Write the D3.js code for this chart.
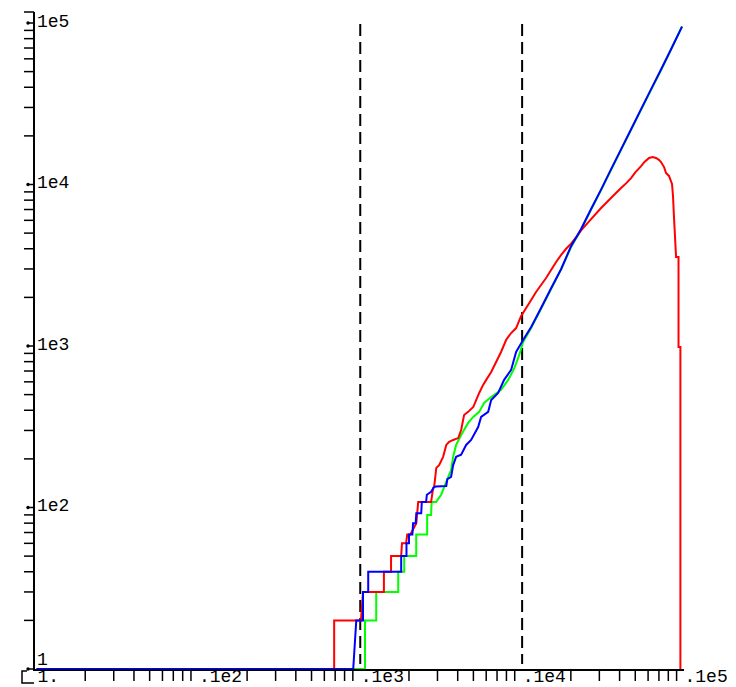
<!DOCTYPE html>
<html><head><meta charset="utf-8">
<script src="https://cdn.jsdelivr.net/npm/d3@7"></script>
<style>body{margin:0;background:#fff}</style>
</head><body>
<svg id="c" width="736" height="687"></svg>
<script>
const xTicks=[1,10,100,1000,10000];
const xTickLabels=["1.",".1e2",".1e3",".1e4",".1e5"];
const yTicks=[10,100,1000,10000,100000];
const yTickLabels=["1","1e2","1e3","1e4","1e5"];
const vLines=[100,1000];

const green=[[1,10],[107,10],[107,20],[125.5,20],[125.5,30],[171.6,30],[171.6,40],[186.9,40],[186.9,50],[221.7,50],[221.7,68],[259,68],[259,90],[274,90],[276,108],[294,108],[316,120],[340,144],[364,171],[375,206],[391,244],[420,281],[464,334],[499,364],[543,391],[582,444],[644,483],[741,535],[820,617],[890,720],[960,880],[1014,1060],[1137,1290],[1309,1700],[1510,2250],[1742,2980],[2006,4100],[2313,5250],[2667,7000],[3074,9250],[3540,12300],[4083,16400],[4710,21800],[5430,29000],[6252,38500],[7211,51000],[8318,68500],[9726,95500]];

const red=[[69,10],[69,20],[101,20],[104,30],[140,30],[140,40],[155,40],[155,50],[179,50],[181,60],[192,60],[195,68],[204,68],[222,80],[228,108],[245,108],[274,108],[282,132],[286,134],[295,176],[307,183],[325,206],[340,244],[354,255],[375,262],[403,269],[420,302],[438,374],[464,391],[499,419],[520,463],[543,512],[574,574],[600,617],[644,691],[741,918],[796,1089],[855,1203],[918,1291],[986,1535],[1059,1719],[1137,1928],[1219,2160],[1309,2387],[1406,2637],[1510,2957],[1622,3313],[1742,3662],[1870,4000],[2006,4300],[2154,4700],[2313,5200],[2667,6100],[3074,7150],[3540,8248],[4083,9510],[4400,10200],[4710,10960],[5000,11900],[5430,13000],[5700,13800],[6085,14600],[6400,14800],[6714,14590],[7000,14200],[7211,13780],[7534,12820],[7745,11780],[8075,11300],[8433,10090],[8551,8500],[8670,6300],[8933,3559],[9250,3559],[9250,986],[9500,986],[9500,10]];

const blue=[[1,10],[90.5,10],[94.5,20],[104,20],[104,30],[112,30],[112,40],[179,40],[179,50],[193,50],[193,60],[200,60],[200,68],[210,68],[212,80],[220,80],[222,92],[238,92],[240,108],[255,108],[258,120],[274,125],[286,134],[294,135],[340,136],[345,150],[364,155],[375,183],[391,206],[420,212],[451,244],[484,262],[535,315],[558,364],[617,391],[644,463],[711,512],[774,617],[855,711],[918,918],[1014,1089],[1137,1311],[1309,1719],[1510,2280],[1742,3000],[2006,4150],[2313,5300],[2667,7050],[3074,9300],[3540,12400],[4083,16500],[4710,22000],[5430,29300],[6252,38800],[7211,51500],[8318,68800],[9726,95000]];

const series=[{data:green,color:"#00ff00"},{data:red,color:"#ff0000"},{data:blue,color:"#0000ff"}];

const svg=d3.select("#c");
const x=d3.scaleLog().domain([1,1e4]).range([36.5,684]);
const y=d3.scaleLog().domain([10,1e5]).range([669,23]);
const axX=34, axY=670;
const font="'Liberation Mono','DejaVu Sans Mono',monospace";

// minor ticks
const minorX=[], minorY=[];
for(let e=0;e<4;e++) for(let k=2;k<=9;k++) minorX.push(k*Math.pow(10,e));
for(let e=1;e<5;e++) for(let k=2;k<=9;k++) minorY.push(k*Math.pow(10,e));

svg.append("g").selectAll("line").data(minorX).join("line")
  .attr("x1",d=>x(d)).attr("x2",d=>x(d)).attr("y1",axY).attr("y2",axY+11)
  .attr("stroke","#000").attr("stroke-width",1.5);
svg.append("g").selectAll("line").data(minorY).join("line")
  .attr("y1",d=>y(d)).attr("y2",d=>y(d)).attr("x1",axX-10).attr("x2",axX)
  .attr("stroke","#000").attr("stroke-width",1.5);
// major y ticks
const gm=svg.append("g");
gm.selectAll("circle").data(yTicks).join("circle")
  .attr("cx",axX-6).attr("cy",d=>y(d)).attr("r",1.7).attr("fill","#000");
gm.selectAll("line").data(yTicks).join("line")
  .attr("y1",d=>y(d)).attr("y2",d=>y(d)).attr("x1",axX-5).attr("x2",axX)
  .attr("stroke","#000").attr("stroke-width",1.5);

// dashed verticals
svg.append("g").selectAll("line").data(vLines).join("line")
  .attr("x1",d=>x(d)).attr("x2",d=>x(d)).attr("y1",24).attr("y2",664)
  .attr("stroke","#000").attr("stroke-width",2).attr("stroke-dasharray","12,6");

// curves
const line=d3.line().x(d=>x(d[0])).y(d=>y(d[1]));
svg.append("g").selectAll("path").data(series).join("path")
  .attr("d",d=>line(d.data)).attr("fill","none").attr("stroke",d=>d.color)
  .attr("stroke-width",2);

// axes lines (on top)
svg.append("line").attr("x1",axX).attr("x2",axX).attr("y1",12).attr("y2",axY+1)
  .attr("stroke","#000").attr("stroke-width",2);
svg.append("line").attr("x1",axX-10).attr("x2",axX).attr("y1",12).attr("y2",12)
  .attr("stroke","#000").attr("stroke-width",1.5);
svg.append("line").attr("x1",axX-1).attr("x2",x(1e4)).attr("y1",axY).attr("y2",axY)
  .attr("stroke","#000").attr("stroke-width",2);
svg.append("path").attr("d",`M${axX-7},${axY+1}H${axX-12}V${axY+13}H${axX}`)
  .attr("fill","none").attr("stroke","#000").attr("stroke-width",1.5);
// faint blue tint where the blue series lies on the baseline
svg.append("path").attr("d",line(blue.slice(0,2))).attr("fill","none")
  .attr("stroke","#0000ff").attr("stroke-opacity",0.35).attr("stroke-width",2);

// labels
svg.append("g").selectAll("text").data(yTicks).join("text")
  .attr("x",axX+3).attr("y",(d,i)=>i===0?y(d)-4:y(d)+3.5)
  .attr("font-family",font).attr("font-size",18).attr("fill","#000")
  .text((d,i)=>yTickLabels[i]);
svg.append("g").selectAll("text").data(xTicks).join("text")
  .attr("x",(d,i)=>i===0?x(d)+1:x(d)+0.5).attr("y",682)
  .attr("font-family",font).attr("font-size",18).attr("fill","#000")
  .text((d,i)=>xTickLabels[i]);
</script>
</body></html>
